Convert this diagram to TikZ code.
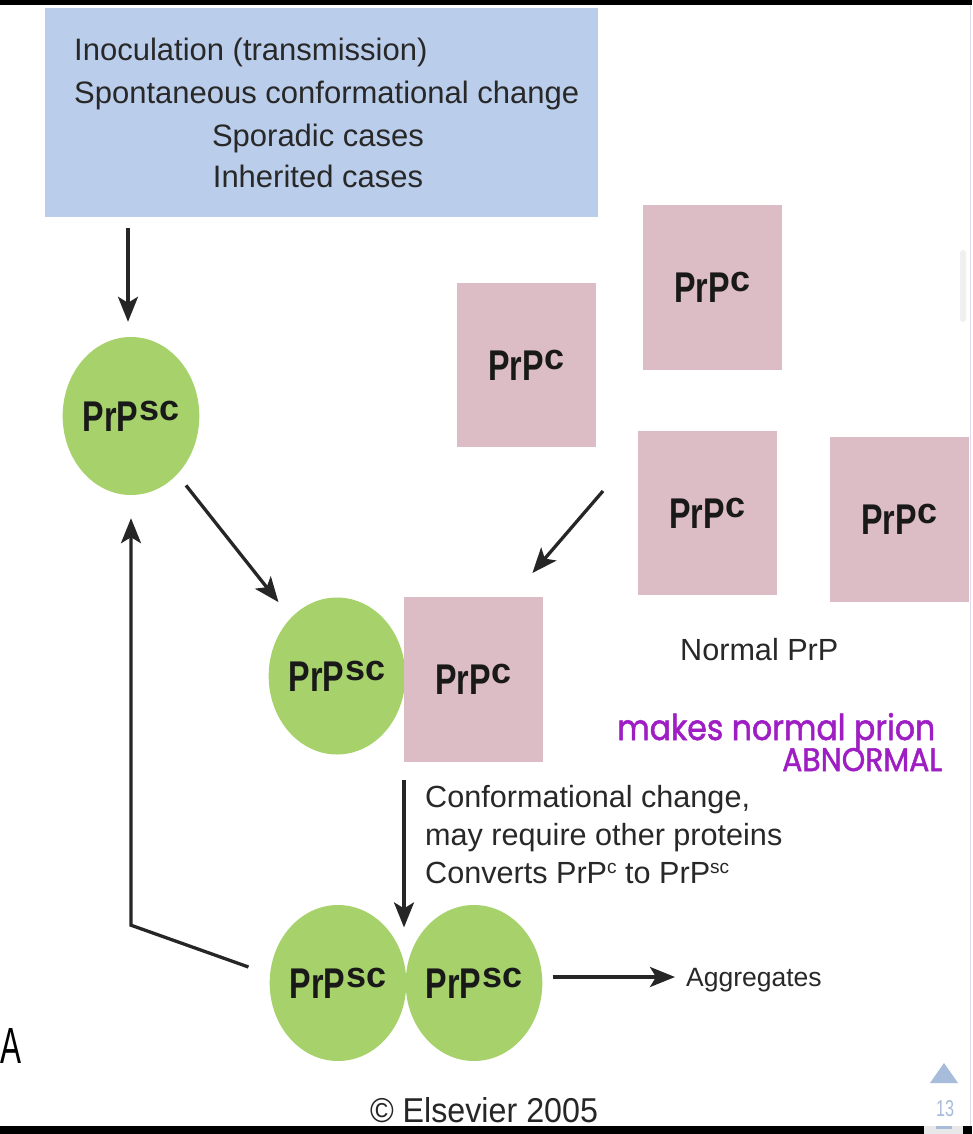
\documentclass[tikz,border=0pt]{standalone}
\usepackage{fontspec}
\usepackage{graphicx}
\setmainfont{Liberation Sans}
\newfontfamily\condbold{Liberation Sans}[FakeStretch=0.75]
\newfontfamily\handfont{Poppins}[FakeBold=1.6]
\usetikzlibrary{shapes.geometric,arrows.meta}
\definecolor{boxblue}{RGB}{186,205,235}
\definecolor{prgreen}{RGB}{166,209,107}
\definecolor{prpink}{RGB}{220,189,198}
\definecolor{txt}{RGB}{40,40,40}
\definecolor{hand}{RGB}{158,30,196}
\definecolor{navblue}{RGB}{167,187,218}
\definecolor{edgegray}{RGB}{222,220,234}
\newcommand{\prpsup}[1]{{\condbold\bfseries\fontsize{43}{43}\selectfont PrP}\hspace{1pt}\raisebox{11pt}{\bfseries\fontsize{36}{36}\selectfont #1}}
\newcommand{\smallsup}[1]{\raisebox{10pt}{\fontsize{19}{19}\selectfont #1}}
\begin{document}
\begin{tikzpicture}[x=1pt,y=-1pt,
  prcirc/.style={ellipse, fill=prgreen, minimum width=134pt, minimum height=157pt, inner sep=0pt, text=black!90},
  prsq/.style={rectangle, fill=prpink, minimum width=139pt, minimum height=164pt, inner sep=0pt, text=black!90, anchor=north west},
  arr/.style={-{Stealth[length=25pt,width=20pt,inset=6pt]}, line width=3.3pt, black!85},
  boxtxt/.style={inner sep=0pt, text=txt, font=\fontsize{31}{38}\selectfont},
  bodytxt/.style={inner sep=0pt, text=txt, font=\fontsize{30.6}{36}\selectfont}]
\useasboundingbox (0,0) rectangle (972,1134);
\fill[white] (0,0) rectangle (972,1134);
\fill[black] (0,0) rectangle (972,5);
\fill[black] (0,1126) rectangle (972,1134);
\fill[gray!18] (924,1126) rectangle (963,1134);
\fill[navblue] (936,1126) rectangle (952,1128.5);
\draw[edgegray, line width=1.2pt] (970.5,5) -- (970.5,1126);
\fill[gray!12, rounded corners=3pt] (960,250) rectangle (966,322);

% source box
\node[fill=boxblue, minimum width=553pt, minimum height=209pt, inner sep=0pt, anchor=north west] (box) at (45,8) {};
\node[boxtxt, anchor=base west] (l1) at (74,61) {Inoculation (transmission)};
\node[boxtxt, anchor=base west] (l2) at (74,104) {Spontaneous conformational change};
\node[boxtxt, anchor=base] (l3) at (318,147) {Sporadic cases};
\node[boxtxt, anchor=base] (l4) at (318,188) {Inherited cases};

% normal PrP squares
\node[prsq] (s1) at (457,283) {\prpsup{c}};
\node[prsq, minimum height=165pt] (s2) at (643,205) {\prpsup{c}};
\node[prsq] (s3) at (638,431) {\prpsup{c}};
\node[prsq, minimum height=165pt] (s4) at (830,437) {\prpsup{c}};
\node[bodytxt, anchor=base west] (normal) at (680,660) {Normal PrP};

% PrPsc circles
\node[prcirc, minimum height=158pt] (c1) at (131,416) {\prpsup{sc}};
\node[prcirc] (c2) at (337,676) {\prpsup{sc}};
\node[prsq, minimum height=165pt] (s0) at (404,597) {\prpsup{c}};
\node[prcirc, minimum height=156pt] (c3) at (338,983) {\prpsup{sc}};
\node[prcirc, minimum height=156pt] (c4) at (474,983) {\prpsup{sc}};

% conversion text
\node[bodytxt, anchor=base west] (k1) at (425,807) {Conformational change,};
\node[bodytxt, anchor=base west] (k2) at (425,845) {may require other proteins};
\node[bodytxt, anchor=base west] (k3) at (425,883) {Converts PrP\smallsup{c} to PrP\smallsup{sc}};

\node[inner sep=0pt, anchor=base west, text=txt, font=\fontsize{26.5}{30}\selectfont] (agg) at (686,986) {Aggregates};

% handwriting
\node[inner sep=0pt, anchor=base west, text=hand] (h1) at (617,740) {\resizebox{318pt}{27pt}{\handfont makes normal prion}};
\node[inner sep=0pt, anchor=base west, text=hand] (h2) at (782,771) {\resizebox{160pt}{23pt}{\handfont ABNORMAL}};

% labels
\node[inner sep=0pt, anchor=base west, text=black] (A) at (0,1063) {\resizebox{21pt}{35pt}{A}};
\node[inner sep=0pt, anchor=base, text=black!85] (els) at (484,1122) {\resizebox{228pt}{25pt}{© Elsevier 2005}};
\node[inner sep=0pt, anchor=base, text=navblue] (pg) at (945,1116) {\resizebox{18pt}{16pt}{13}};
\fill[navblue] (930,1083) -- (944,1063) -- (958,1083) -- cycle;

% connectors
\path (box.south) ++(0,11) coordinate (t1);
\path (c1.north) ++(-3,-15) coordinate (e1);
\draw[arr] (e1 |- t1) -- (e1);
\draw[arr, shorten <=14pt, shorten >=20pt] (c1) -- (c2);
\path (s3.north west) ++(-35,60) coordinate (f1);
\path (s0.north east) ++(-11,-24) coordinate (f2);
\draw[arr] (f1) -- (f2);
\path (s0.south west) ++(0,18) coordinate (g1);
\path (g1) ++(0,147) coordinate (g2);
\draw[arr] (g1) -- (g2);
\path (c4.east) ++(10,-6) coordinate (a1);
\draw[arr, shorten >=11pt] (a1) -- (a1 -| agg.west);
\path (c3.west) ++(-21,-16) coordinate (r1);
\path (c1.south) ++(0,430) coordinate (r2);
\path (c1.south) ++(0,23) coordinate (r3);
\draw[arr] (r1) -- (r2) -- (r3);
\end{tikzpicture}
\end{document}
